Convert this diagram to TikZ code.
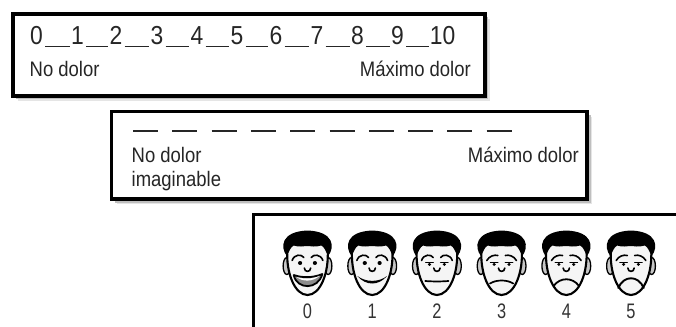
\documentclass[tikz,border=0pt]{standalone}
\usepackage{fontspec}
\setmainfont{Liberation Sans}[FakeStretch=0.88]
\newfontfamily\labelfont{Liberation Sans}[FakeStretch=0.78]
\begin{document}
\begin{tikzpicture}[x=1pt,y=-1pt,
  panel/.style={draw=black,fill=white,line width=3.5},
  scaletext/.style={font=\fontsize{21}{25}\selectfont,text=black!85,inner sep=0pt},
  digit/.style={font=\fontsize{26}{30}\selectfont,text=black!85,inner sep=0pt,anchor=base},
  blank/.style={draw=black!85,line width=1.9},
  facelabel/.style={font=\labelfont\fontsize{21}{24}\selectfont,text=black!80,inner sep=0pt,anchor=base},
  ink/.style={draw=black,line width=1.6,line cap=round},
  pics/face/.style={code={
    % ears
    \path[fill=black!22,draw=black,line width=1.3] (-19.5,3) ellipse [x radius=3.5,y radius=8.5];
    \path[fill=black!22,draw=black,line width=1.3] (19.5,3) ellipse [x radius=3.5,y radius=8.5];
    % skin
    \path[fill=black!4,draw=black,line width=2.1]
      (-19,-14) .. controls (-20.5,10) and (-12,32) .. (0,32)
      .. controls (12,32) and (20.5,10) .. (19,-14) -- (19,-22) -- (-19,-22) -- cycle;
    % hair
    \fill[black] (-19.5,-7) .. controls (-26,-16) and (-25,-31.5) .. (0,-32.5)
      .. controls (25,-31.5) and (26,-16) .. (19.5,-7)
      .. controls (17,-12) and (16,-16) .. (13,-17.5)
      .. controls (7,-15.5) and (3,-17) .. (0,-17)
      .. controls (-4,-17) and (-8,-15.5) .. (-13,-17.5)
      .. controls (-16,-16) and (-17,-12) .. (-19.5,-7) -- cycle;
    % nose
    \draw[ink] (-3,5) .. controls (-3,9.5) and (3,9.5) .. (3,5);
    % brows and eyes
    \ifnum#1<3
      \draw[ink] (-14.5,-2.5) .. controls (-12.5,-9) and (-5.5,-9) .. (-3.5,-5.5);
      \draw[ink] (3.5,-5.5) .. controls (5.5,-9) and (12.5,-9) .. (14.5,-2.5);
    \else
      \draw[ink] (-14,-2.5) .. controls (-11.5,-7) and (-7,-8.5) .. (-3.5,-7.5);
      \draw[ink] (3.5,-7.5) .. controls (7,-8.5) and (11.5,-7) .. (14,-2.5);
    \fi
    \ifnum#1<2
      \fill (-7,0) circle [radius=2];
      \fill (7,0) circle [radius=2];
    \else
      \draw[ink,line width=1.3] (-10.5,-0.5) -- (-3.5,-0.5);
      \draw[ink,line width=1.3] (3.5,-0.5) -- (10.5,-0.5);
      \fill (-7,1.4) circle [radius=1.6];
      \fill (7,1.4) circle [radius=1.6];
    \fi
    % mouth
    \ifcase#1
      \path[fill=black!45,draw=black,line width=1.8,line join=round]
        (-13,12) .. controls (-10,27) and (10,27) .. (14,11)
        .. controls (5,15) and (-5,15) .. cycle;
      \fill[white] (-10.5,13.8) .. controls (-5,16.2) and (5,16.2) .. (11.5,12.8)
        .. controls (5,19) and (-5,19) .. cycle;
    \or
      \fill (-14,13) .. controls (-6,19.5) and (6,19.5) .. (14,13)
        .. controls (6,23) and (-6,23) .. cycle;
    \or
      \draw[ink,line width=1.7] (-11,18) .. controls (-4,18.6) and (4,18.6) .. (11,18);
    \or
      \draw[ink,line width=1.7] (-11,20.5) .. controls (-5,16.5) and (5,16.5) .. (11,20.5);
    \or
      \draw[ink,line width=1.8] (-12,23) .. controls (-6,14) and (6,14) .. (12,23);
    \or
      \draw[ink,line width=1.9] (-12,25) .. controls (-7,12) and (7,12) .. (12,25);
    \fi
  }},
]
\useasboundingbox (0,0) rectangle (676,326);
\clip (0,0) rectangle (676,326);
\fill[white] (0,0) rectangle (676,326);

% soft drop shadows behind the panels
\newcommand\panelshadow[4]{%
  \fill[black!10,shift={(5,5)}] (#1,#2) rectangle (#3,#4);
  \fill[black!25,shift={(3.5,3.5)}] (#1,#2) rectangle (#3,#4);
  \fill[black!45,shift={(2,2)}] (#1,#2) rectangle (#3,#4);}
\panelshadow{12.5}{14}{484.5}{96}
\panelshadow{111.5}{111.5}{587}{199}

% numeric rating scale 0-10
\draw[panel,line width=4] (12.5,14) rectangle (484.5,96);
\foreach \d/\x in {0/36.5,1/77.5,2/116,3/157,4/197,5/237,6/276,7/317,8/357.5,9/397.5,10/442.5}
  \node[digit] (n\d) at (\x,45) {\d};
\foreach \a/\b in {0/1,1/2,2/3,3/4,4/5,5/6,6/7,7/8,8/9,9/10}
  \draw[blank] ([shift={(2,1.5)}]n\a.base east) -- ([shift={(-1,1.5)}]n\b.base west);
\node[scaletext,anchor=base west] (low1) at (29.5,77) {No dolor};
\node[scaletext,anchor=base east] (high1) at (471,77) {Máximo dolor};

% visual analogue scale
\draw[panel] (111.5,111.5) rectangle (587,199);
\foreach \i in {0,...,9}
  \draw[blank] (133+39.3*\i,131) -- (158+39.3*\i,131);
\node[scaletext,anchor=base west] (low2) at (131.5,162) {No dolor};
\node[scaletext,anchor=base west] (low2b) at (131.5,186) {imaginable};
\node[scaletext,anchor=base east] (high2) at (579,162) {Máximo dolor};

% faces scale
\draw[panel] (253.5,214.5) rectangle (700,350);
\foreach \i in {0,...,5} {
  \pic[xscale=1.06] at (307.5+64.7*\i,263) {face=\i};
  \node[facelabel] (l\i) at (307.5+64.7*\i,318) {\i};
}
\end{tikzpicture}
\end{document}
